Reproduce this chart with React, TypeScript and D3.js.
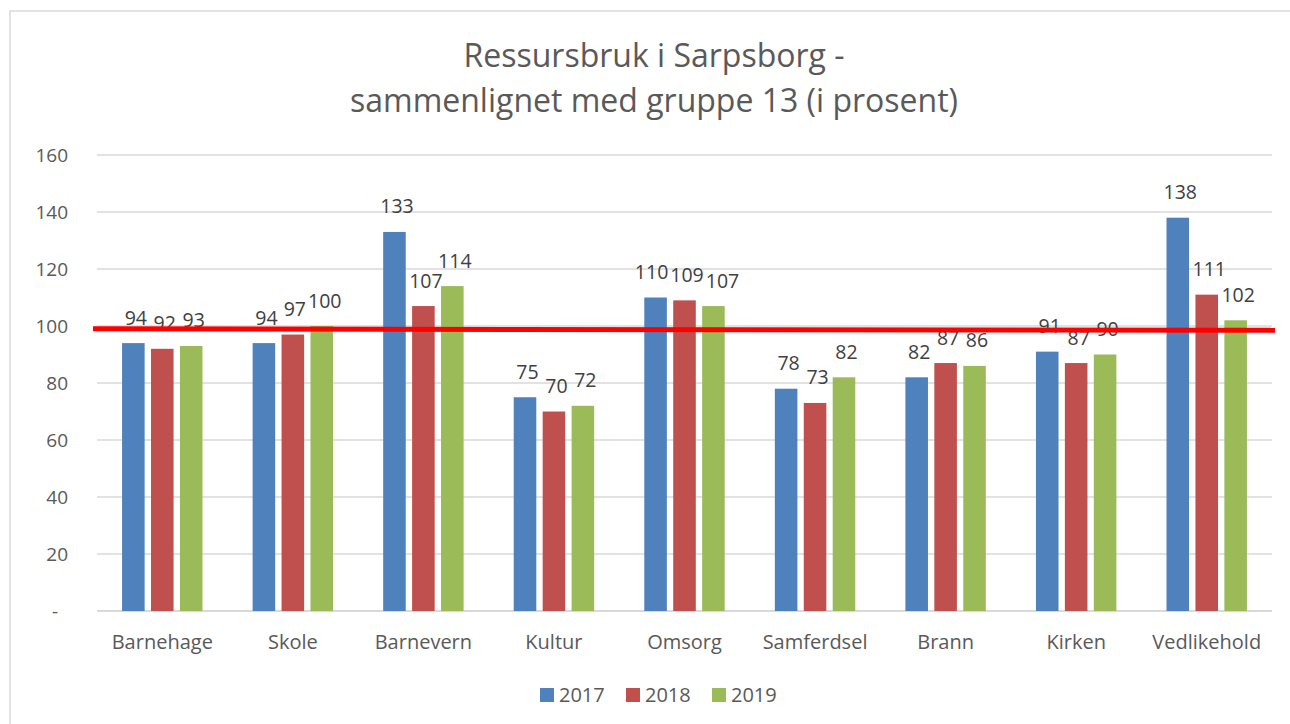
import React, { useRef, useEffect } from "react";
import * as d3 from "d3";

const categories = [
  "Barnehage",
  "Skole",
  "Barnevern",
  "Kultur",
  "Omsorg",
  "Samferdsel",
  "Brann",
  "Kirken",
  "Vedlikehold"
];
const years = ["2017", "2018", "2019"];
const values2017 = [94, 94, 133, 75, 110, 78, 82, 91, 138];
const values2018 = [92, 97, 107, 70, 109, 73, 87, 87, 111];
const values2019 = [93, 100, 114, 72, 107, 82, 86, 90, 102];
const yTicks = [0, 20, 40, 60, 80, 100, 120, 140, 160];
const referenceLevel = 99;
const titleLines = [
  "Ressursbruk i Sarpsborg -",
  "sammenlignet med gruppe 13 (i prosent)"
];

const colors = ["#4F81BD", "#C0504D", "#9BBB59"];
const textColor = "#595959";
const gridColor = "#D9D9D9";
const font = "'Open Sans', sans-serif";

const App = () => {
  let chartRef = useRef<SVGSVGElement>(null);

  useEffect(() => {
    let svg = d3.select(chartRef.current);
    svg.selectAll("*").remove();

    let width = 1290;
    let height = 724;
    let plot = { left: 97, right: 1272, top: 155, bottom: 611 };
    let series = [values2017, values2018, values2019];

    // chart frame, runs off the right/bottom edge like the screenshot
    svg
      .append("rect")
      .attr("x", 10)
      .attr("y", 11)
      .attr("width", width + 20)
      .attr("height", height + 20)
      .attr("fill", "#fff")
      .attr("stroke", gridColor)
      .attr("stroke-width", 1.5);

    let title = svg
      .append("text")
      .attr("text-anchor", "middle")
      .style("font-family", font)
      .style("font-size", "32px")
      .style("fill", textColor);
    titleLines.forEach((line, i) => {
      title
        .append("tspan")
        .attr("x", 654)
        .attr("y", 67 + i * 45)
        .text(line);
    });

    let y = d3
      .scaleLinear()
      .domain([0, 160])
      .range([plot.bottom, plot.top]);

    let x0 = d3
      .scaleBand()
      .domain(categories)
      .range([plot.left, plot.right])
      .paddingInner(0.384)
      .paddingOuter(0.192);

    let x1 = d3
      .scaleBand()
      .domain(years)
      .range([0, x0.bandwidth()])
      .paddingInner(0.22);

    // gridlines + y tick labels
    let ticks = svg.append("g");
    ticks
      .selectAll("line")
      .data(yTicks)
      .enter()
      .append("line")
      .attr("x1", plot.left)
      .attr("x2", plot.right)
      .attr("y1", d => y(d))
      .attr("y2", d => y(d))
      .attr("stroke", gridColor)
      .attr("stroke-width", d => (d === 0 ? 2 : 1.5));

    ticks
      .selectAll("text")
      .data(yTicks)
      .enter()
      .append("text")
      .attr("x", d => (d === 0 ? 58 : 68))
      .attr("y", d => y(d))
      .attr("dy", "0.35em")
      .attr("text-anchor", "end")
      .style("font-family", font)
      .style("font-size", "19px")
      .style("fill", textColor)
      .text(d => (d === 0 ? "-" : d));

    let groups = svg
      .append("g")
      .selectAll("g")
      .data(categories)
      .enter()
      .append("g")
      .attr("transform", d => "translate(" + x0(d) + ",0)");

    groups
      .selectAll("rect")
      .data((d, i) => series.map((s, j) => ({ year: years[j], value: s[i], j })))
      .enter()
      .append("rect")
      .attr("x", d => x1(d.year))
      .attr("y", d => y(d.value))
      .attr("width", x1.bandwidth())
      .attr("height", d => plot.bottom - y(d.value))
      .attr("fill", d => colors[d.j]);

    let labels = groups
      .selectAll("text.value")
      .data((d, i) => series.map((s, j) => ({ year: years[j], value: s[i] })))
      .enter()
      .append("text")
      .attr("class", "value")
      .attr("x", d => x1(d.year) + x1.bandwidth() / 2 + 2.5)
      .attr("y", d => y(d.value) - 18.5)
      .attr("text-anchor", "middle")
      .style("font-family", font)
      .style("font-size", "19.5px")
      .style("fill", "#404040")
      .text(d => d.value);

    // push apart data labels that collide (like Excel does)
    groups.each(function () {
      let nodes = d3.select(this).selectAll("text.value").nodes() as SVGTextElement[];
      let boxes = nodes.map(n => ({
        x: +n.getAttribute("x"),
        y: +n.getAttribute("y"),
        w: n.getComputedTextLength()
      }));
      for (let k = 0; k < 10; k++) {
        for (let i = 1; i < boxes.length; i++) {
          let a = boxes[i - 1];
          let b = boxes[i];
          if (Math.abs(a.y - b.y) > 15) continue;
          let need = (a.w + b.w) / 2 + 2 - (b.x - a.x);
          if (need > 0) {
            a.x -= need / 2;
            b.x += need / 2;
          }
        }
      }
      nodes.forEach((n, i) => n.setAttribute("x", String(boxes[i].x)));
    });

    svg
      .append("g")
      .selectAll("text")
      .data(categories)
      .enter()
      .append("text")
      .attr("x", d => x0(d) + x0.bandwidth() / 2)
      .attr("y", 649)
      .attr("text-anchor", "middle")
      .style("font-family", font)
      .style("font-size", "20px")
      .style("fill", textColor)
      .text(d => d);

    // red reference line drawn on top of the labels
    svg
      .append("line")
      .attr("x1", 93)
      .attr("x2", 1275)
      .attr("y1", y(referenceLevel))
      .attr("y2", y(referenceLevel) + 1.5)
      .attr("stroke", "#FF0000")
      .attr("stroke-width", 5);

    let legend = svg
      .append("g")
      .selectAll("g")
      .data(years)
      .enter()
      .append("g")
      .attr("transform", (d, i) => "translate(" + (540 + i * 86) + ",688)");

    legend
      .append("rect")
      .attr("width", 14)
      .attr("height", 14)
      .attr("fill", (d, i) => colors[i]);

    legend
      .append("text")
      .attr("x", 19)
      .attr("y", 14)
      .style("font-family", font)
      .style("font-size", "20px")
      .style("fill", textColor)
      .text(d => d);
  }, []);

  return (
    <svg
      ref={chartRef}
      width={1290}
      height={724}
      style={{ position: "absolute", left: 0, top: 0, display: "block" }}
    />
  );
};

export default App;
